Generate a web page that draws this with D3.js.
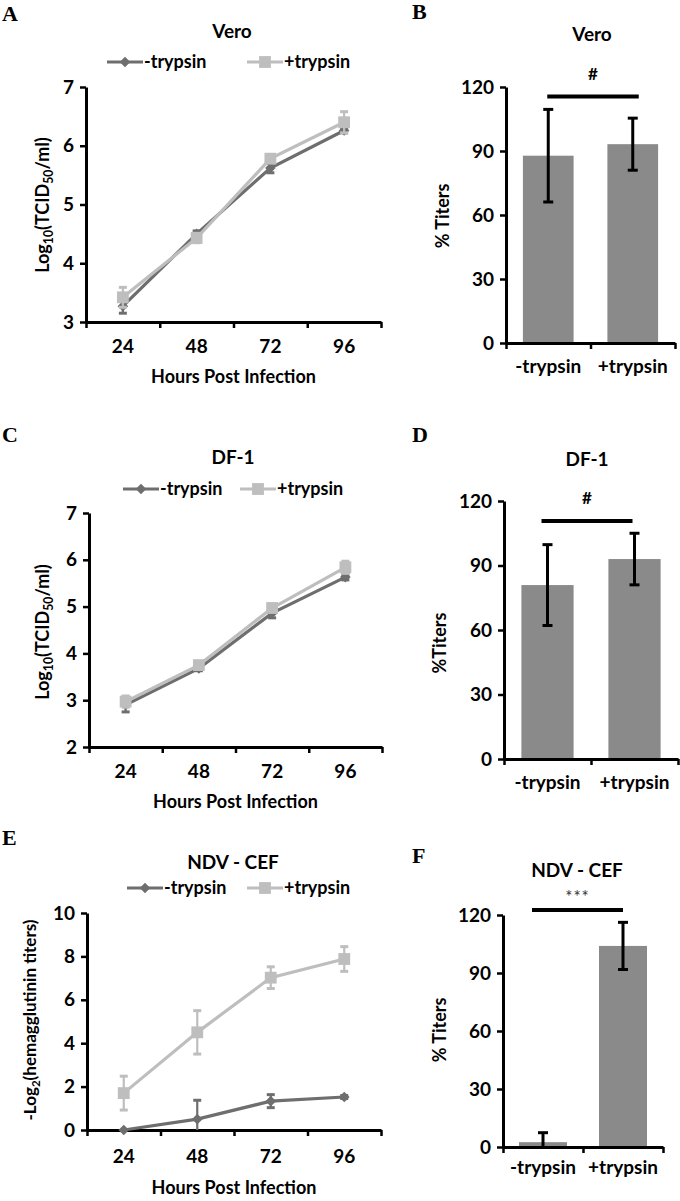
<!DOCTYPE html>
<html><head><meta charset="utf-8">
<script src="https://cdn.jsdelivr.net/npm/d3@7"></script>
<style>
body{margin:0;background:#fff}
svg{display:block}
text{font-family:Lato,'Open Sans',sans-serif;font-weight:700;fill:#000}
</style>
</head><body>
<svg id="fig" width="680" height="1201"></svg>
<script>
// ---------- data ----------
const hours = ["24", "48", "72", "96"];
const seriesNames = ["-trypsin", "+trypsin"];

const veroMinus    = [3.27, 4.50, 5.62, 6.26];
const veroMinusErr = [0.12, 0.05, 0.08, 0.04];
const veroPlus     = [3.42, 4.43, 5.78, 6.40];
const veroPlusErr  = [0.17, 0.08, 0.06, 0.18];

const df1Minus     = [2.90, 3.68, 4.86, 5.63];
const df1MinusErr  = [0.15, 0.05, 0.10, 0.06];
const df1Plus      = [2.97, 3.75, 4.97, 5.84];
const df1PlusErr   = [0.12, 0.06, 0.06, 0.13];

const ndvMinus     = [0.00, 0.50, 1.33, 1.52];
const ndvMinusErr  = [0.00, 0.87, 0.30, 0.07];
const ndvPlus      = [1.70, 4.50, 7.02, 7.88];
const ndvPlusErr   = [0.78, 1.00, 0.50, 0.57];

const groups       = ["-trypsin", "+trypsin"];
const veroPct      = [87.8, 93.2];
const veroPctErr   = [21.7, 12.2];
const df1Pct       = [80.9, 93.0];
const df1PctErr    = [18.8, 12.0];
const ndvPct       = [2.5, 104.0];
const ndvPctErr    = [4.9, 12.2];

const sigLabels    = ["#", "#", "***"];
const sigLevels    = [115.5, 110.7, 122.6];

const ticksVero    = [3, 4, 5, 6, 7];
const ticksDf1     = [2, 3, 4, 5, 6, 7];
const ticksNdv     = [0, 2, 4, 6, 8, 10];
const ticksPct     = [0, 30, 60, 90, 120];

// ---------- style ----------
const DARK = "#6e6e6e", LIGHT = "#bebebe", BAR = "#8a8a8a";
const svg = d3.select("#fig");
const diamond = d3.symbol().type(d3.symbolSquare).size(56);
const square = d3.symbol().type(d3.symbolSquare).size(140);
const intFmt = d3.format("d");

function styleAxis(a) {
  a.select(".domain").attr("stroke", "#000").attr("stroke-width", 3);
  a.selectAll(".tick line").attr("stroke", "#000").attr("stroke-width", 2.5);
  a.selectAll(".tick text").attr("font-family", "Lato").attr("font-weight", 700).attr("font-size", 19).attr("fill", "#000");
}

function panelLetter(t, x, y) {
  svg.append("text").text(t).attr("x", x).attr("y", y)
    .style("font-family", "'Liberation Serif',serif").style("font-weight", 700).attr("font-size", 22);
}

function lineChart(o) {
  const g = svg.append("g");
  const x = d3.scaleBand().domain(hours).range([o.x0, o.x1]);
  const xi = d3.scaleLinear().domain([0, hours.length]).range([o.x0, o.x1]);
  const y = d3.scaleLinear().domain(o.yDomain).range([o.yBottom, o.yTop]);

  const xa = g.append("g").attr("transform", `translate(0,${o.yBottom})`)
    .call(d3.axisBottom(xi).tickValues(d3.range(hours.length + 1)).tickFormat("").tickSize(6).tickSizeOuter(0));
  styleAxis(xa);
  const xl = g.append("g").attr("transform", `translate(0,${o.yBottom})`)
    .call(d3.axisBottom(x).tickSize(0).tickPadding(o.labelPad));
  xl.select(".domain").remove();
  styleAxis(xl);
  const ya = g.append("g").attr("transform", `translate(${o.x0},0)`)
    .call(d3.axisLeft(y).tickValues(o.yTicks).tickFormat(intFmt).tickSize(6).tickSizeOuter(0).tickPadding(6));
  styleAxis(ya);

  const defs = [
    {vals: o.minus, err: o.minusErr, color: DARK, sym: diamond, rot: 45},
    {vals: o.plus, err: o.plusErr, color: LIGHT, sym: square, rot: 0}
  ];
  const lo = o.yDomain[0];
  defs.forEach(s => {
    const pts = hours.map((h, i) => ({h, v: s.vals[i], e: s.err[i]}));
    const cx = d => x(d.h) + x.bandwidth() / 2;
    g.append("path").datum(pts)
      .attr("fill", "none").attr("stroke", s.color).attr("stroke-width", 3.2)
      .attr("d", d3.line().x(cx).y(d => y(d.v)));
    const eb = g.append("g").selectAll("g").data(pts.filter(d => d.e > 0)).join("g")
      .attr("stroke", s.color).attr("stroke-width", 2.2);
    eb.append("line").attr("x1", cx).attr("x2", cx)
      .attr("y1", d => y(Math.max(lo, d.v - d.e))).attr("y2", d => y(d.v + d.e));
    eb.append("line").attr("x1", d => cx(d) - 4).attr("x2", d => cx(d) + 4)
      .attr("y1", d => y(d.v + d.e)).attr("y2", d => y(d.v + d.e)).attr("stroke-width", 3);
    eb.filter(d => d.v - d.e > lo).append("line")
      .attr("x1", d => cx(d) - 4).attr("x2", d => cx(d) + 4)
      .attr("y1", d => y(d.v - d.e)).attr("y2", d => y(d.v - d.e)).attr("stroke-width", 3);
    g.append("g").selectAll("path").data(pts).join("path")
      .attr("d", s.sym).attr("fill", s.color)
      .attr("transform", d => `translate(${cx(d)},${y(d.v)}) rotate(${s.rot})`);
  });

  g.append("text").text(o.title).attr("x", o.titleX).attr("y", o.titleY)
    .attr("text-anchor", "middle").attr("font-size", 19);
  [[o.lx0, DARK, diamond, 45, seriesNames[0]], [o.lx1, LIGHT, square, 0, seriesNames[1]]].forEach(([lx, c, sym, rot, name]) => {
    g.append("line").attr("x1", lx).attr("x2", lx + 36).attr("y1", o.ly).attr("y2", o.ly)
      .attr("stroke", c).attr("stroke-width", 3.2);
    g.append("path").attr("d", sym).attr("fill", c).attr("transform", `translate(${lx + 18},${o.ly}) rotate(${rot})`);
    g.append("text").text(name).attr("x", lx + 37).attr("y", o.ly + 6).attr("font-size", 18);
  });
  const yt = g.append("text").attr("transform", `translate(${o.ytX},${o.ytY}) rotate(-90)`)
    .attr("text-anchor", "middle").attr("font-size", o.ytSize);
  o.ytParts.forEach(([t, sub]) => {
    yt.append("tspan").text(t)
      .attr("font-size", sub === 1 ? o.ytSize * 0.68 : o.ytSize)
      .attr("dy", sub === 1 ? 4 : (sub === -1 ? -4 : 0));
  });
  g.append("text").text("Hours Post Infection").attr("x", (o.x0 + o.x1) / 2).attr("y", o.xtY)
    .attr("text-anchor", "middle").attr("font-size", 18);
}

function barChart(o) {
  const g = svg.append("g");
  const x = d3.scaleBand().domain(groups).range([o.x0, o.x1]).paddingInner(0.4).paddingOuter(0.2);
  const y = d3.scaleLinear().domain([0, 120]).range([o.yBottom, o.yTop]);
  const pts = groups.map((k, i) => ({k, v: o.vals[i], e: o.err[i]}));

  g.append("g").selectAll("rect").data(pts).join("rect")
    .attr("x", d => x(d.k)).attr("width", x.bandwidth())
    .attr("y", d => y(d.v)).attr("height", d => y(0) - y(d.v)).attr("fill", BAR);

  const xi = d3.scaleLinear().domain([0, groups.length]).range([o.x0, o.x1]);
  const xa = g.append("g").attr("transform", `translate(0,${o.yBottom})`)
    .call(d3.axisBottom(xi).tickValues(d3.range(groups.length + 1)).tickFormat("").tickSize(6).tickSizeOuter(0));
  styleAxis(xa);
  const xl = g.append("g").attr("transform", `translate(0,${o.yBottom})`)
    .call(d3.axisBottom(x).tickSize(0).tickPadding(o.labelPad));
  xl.select(".domain").remove();
  styleAxis(xl);
  const ya = g.append("g").attr("transform", `translate(${o.x0},0)`)
    .call(d3.axisLeft(y).tickValues(ticksPct).tickFormat(intFmt).tickSize(6).tickSizeOuter(0).tickPadding(6));
  styleAxis(ya);

  const cx = d => x(d.k) + x.bandwidth() / 2;
  const eb = g.append("g").selectAll("g").data(pts).join("g").attr("stroke", "#000").attr("stroke-width", 3);
  eb.append("line").attr("x1", cx).attr("x2", cx)
    .attr("y1", d => y(Math.max(0, d.v - d.e))).attr("y2", d => y(d.v + d.e));
  eb.append("line").attr("x1", d => cx(d) - 5).attr("x2", d => cx(d) + 5)
    .attr("y1", d => y(d.v + d.e)).attr("y2", d => y(d.v + d.e));
  eb.filter(d => d.v - d.e > 0).append("line").attr("x1", d => cx(d) - 5).attr("x2", d => cx(d) + 5)
    .attr("y1", d => y(d.v - d.e)).attr("y2", d => y(d.v - d.e));

  g.append("line")
    .attr("x1", cx(pts[0]) + o.sigOff[0]).attr("x2", cx(pts[1]) + o.sigOff[1])
    .attr("y1", y(o.sig)).attr("y2", y(o.sig)).attr("stroke", "#000").attr("stroke-width", 4);
  const sl = g.append("text").text(o.sigLabel)
    .attr("x", (cx(pts[0]) + o.sigOff[0] + cx(pts[1]) + o.sigOff[1]) / 2).attr("y", o.sigTextY)
    .attr("text-anchor", "middle");
  if (o.sigLabel === "***") sl.attr("font-size", 17).attr("letter-spacing", 1).style("font-weight", 400).style("fill", "#333");
  else sl.attr("font-size", 17);

  g.append("text").text(o.title).attr("x", o.titleX).attr("y", o.titleY)
    .attr("text-anchor", "middle").attr("font-size", 19);
  g.append("text").text(o.yTitle).attr("transform", `translate(${o.ytX},${o.ytY}) rotate(-90)`)
    .attr("text-anchor", "middle").attr("font-size", 18);
}

// ---------- panels ----------
panelLetter("A", 2, 21);
lineChart({
  x0: 86, x1: 381, yTop: 87, yBottom: 322, yDomain: [3, 7], yTicks: ticksVero,
  minus: veroMinus, minusErr: veroMinusErr, plus: veroPlus, plusErr: veroPlusErr,
  title: "Vero", titleX: 232, titleY: 38, ly: 62, lx0: 107, lx1: 247,
  ytX: 49, ytY: 205, ytSize: 18,
  ytParts: [["Log", 0], ["10", 1], ["(TCID", -1], ["50", 1], ["/ml)", -1]],
  xtY: 383, labelPad: 18
});

panelLetter("B", 412, 19);
barChart({
  x0: 506, x1: 675, yTop: 87, yBottom: 343, vals: veroPct, err: veroPctErr,
  sig: sigLevels[0], sigLabel: sigLabels[0], sigOff: [-1, 6], sigTextY: 80,
  title: "Vero", titleX: 592, titleY: 41, yTitle: "% Titers", ytX: 449, ytY: 216, labelPad: 17
});

panelLetter("C", 2, 442);
lineChart({
  x0: 89, x1: 382, yTop: 513, yBottom: 747, yDomain: [2, 7], yTicks: ticksDf1,
  minus: df1Minus, minusErr: df1MinusErr, plus: df1Plus, plusErr: df1PlusErr,
  title: "DF-1", titleX: 233, titleY: 464, ly: 489, lx0: 123, lx1: 240,
  ytX: 49, ytY: 632, ytSize: 18,
  ytParts: [["Log", 0], ["10", 1], ["(TCID", -1], ["50", 1], ["/ml)", -1]],
  xtY: 808, labelPad: 18
});

panelLetter("D", 412, 442);
barChart({
  x0: 504, x1: 678, yTop: 501, yBottom: 759, vals: df1Pct, err: df1PctErr,
  sig: sigLevels[1], sigLabel: sigLabels[1], sigOff: [-6, -2], sigTextY: 504,
  title: "DF-1", titleX: 587, titleY: 466, yTitle: "%Titers", ytX: 446, ytY: 643, labelPad: 17
});

panelLetter("E", 2, 845);
lineChart({
  x0: 87, x1: 381, yTop: 913, yBottom: 1130, yDomain: [0, 10], yTicks: ticksNdv,
  minus: ndvMinus, minusErr: ndvMinusErr, plus: ndvPlus, plusErr: ndvPlusErr,
  title: "NDV - CEF", titleX: 233, titleY: 869, ly: 888, lx0: 127, lx1: 247,
  ytX: 36, ytY: 1020, ytSize: 17,
  ytParts: [["-Log", 0], ["2", 1], ["(hemagglutinin titers)", -1]],
  xtY: 1194, labelPad: 20
});

panelLetter("F", 412, 863);
barChart({
  x0: 503, x1: 663, yTop: 915, yBottom: 1147, vals: ndvPct, err: ndvPctErr,
  sig: sigLevels[2], sigLabel: sigLabels[2], sigOff: [-11, 0], sigTextY: 903,
  title: "NDV - CEF", titleX: 577, titleY: 877, yTitle: "% Titers", ytX: 446, ytY: 1030, labelPad: 14
});
</script>
</body></html>
